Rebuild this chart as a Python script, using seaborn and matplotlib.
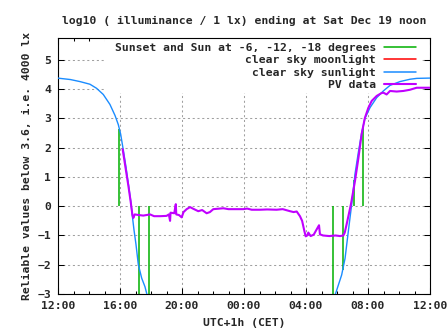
import numpy as np
import pandas as pd
import matplotlib
matplotlib.use("Agg")
import matplotlib.pyplot as plt
from matplotlib.lines import Line2D
from matplotlib.patches import Rectangle
from matplotlib.ticker import MultipleLocator, FixedLocator
import seaborn as sns

# Hours since Friday 12:00 (CET); 24 = Saturday noon
sun_eve_h = [0, 0.13, 0.8, 1.42, 2.06, 2.49, 2.92, 3.35, 3.68, 3.89, 4.04, 4.22,
             4.39, 4.54, 4.69, 4.80, 4.90, 5.03, 5.18, 5.40, 5.61, 5.78]
sun_eve_v = [4.38, 4.37, 4.33, 4.26, 4.17, 4.03, 3.82, 3.48, 3.10, 2.79, 2.47, 1.90,
             1.33, 0.76, 0.19, -0.35, -0.80, -1.30, -1.99, -2.46, -2.75, -3.10]
sun_morn_h = [17.87, 18.09, 18.30, 18.52, 18.73, 18.95, 19.16, 19.38, 19.59, 19.80,
              20.13, 20.56, 20.99, 21.42, 22.06, 22.71, 23.14, 24.0]
sun_morn_v = [-3.05, -2.69, -2.35, -1.78, -0.86, 0.07, 1.10, 1.85, 2.50, 3.00,
              3.37, 3.71, 3.94, 4.13, 4.26, 4.34, 4.37, 4.38]

pv_h = [4.17, 4.39, 4.54, 4.69, 4.80, 4.86, 4.95, 5.2, 5.5, 5.94, 6.2, 6.6, 7.0,
        7.15, 7.23, 7.26, 7.5, 7.6, 7.63, 7.8, 7.98, 8.1, 8.3, 8.52, 8.7, 9.05,
        9.3, 9.59, 9.8, 10.02, 10.67, 11.0, 11.96, 12.2, 12.5, 13.03, 13.5, 14.1,
        14.5, 14.97, 15.2, 15.4, 15.61, 15.75, 15.9, 15.98, 16.08, 16.15, 16.3,
        16.5, 16.69, 16.84, 16.9, 17.1, 17.5, 17.9, 18.2, 18.41, 18.5, 18.62,
        18.75, 18.9, 19.16, 19.38, 19.59, 19.8, 20.02, 20.24, 20.56, 20.88, 21.0,
        21.2, 21.42, 21.85, 22.28, 22.7, 23.14, 24.0]
pv_v = [1.95, 1.2, 0.7, 0.15, -0.3, -0.4, -0.28, -0.3, -0.32, -0.28, -0.34, -0.34,
        -0.33, -0.28, -0.5, -0.22, -0.24, 0.07, -0.28, -0.3, -0.38, -0.2, -0.1,
        -0.03, -0.08, -0.17, -0.13, -0.24, -0.2, -0.1, -0.07, -0.1, -0.1, -0.08,
        -0.12, -0.12, -0.11, -0.12, -0.1, -0.17, -0.2, -0.18, -0.34, -0.5, -0.86,
        -1.03, -1.0, -0.9, -1.02, -0.97, -0.79, -0.65, -0.96, -1.0, -1.02, -1.0,
        -1.02, -1.0, -0.9, -0.62, -0.3, 0.07, 0.86, 1.64, 2.47, 3.02, 3.36, 3.6,
        3.77, 3.87, 3.88, 3.82, 3.94, 3.92, 3.94, 3.98, 4.05, 4.05]

# Sunset / sunrise and sun at -6, -12, -18 degrees
event_h = [3.95, 5.25, 5.89, 17.74, 18.41, 19.12, 19.70]
event_v = [2.64, -3.5, -3.5, -3.5, -2.17, 0.90, 2.70]

x_tick_labels = ["12:00", "16:00", "20:00", "00:00", "04:00", "08:00", "12:00"]

GREEN = "#00b000"
RED = "#ff0000"
BLUE = "#1a8cff"
PURPLE = "#c000ff"

sns.set_style("ticks")
plt.rcParams["font.family"] = ["DejaVu Sans Mono"]
plt.rcParams["font.weight"] = "bold"
FS = 8.2

fig = plt.figure(figsize=(4.47, 3.35), dpi=100)
ax = fig.add_axes([58 / 447, 1 - 294 / 335, 372 / 447, 256 / 335])

sun = pd.concat([
    pd.DataFrame({"h": sun_eve_h, "v": sun_eve_v, "seg": "eve"}),
    pd.DataFrame({"h": sun_morn_h, "v": sun_morn_v, "seg": "morn"}),
])
pv = pd.DataFrame({"h": pv_h, "v": pv_v})

ax.set_axisbelow(True)
ax.grid(True, which="major", color="#a0a0a0", linestyle=(0, (2, 2.6)), linewidth=0.75)

# opaque key area (hides grid, data drawn over it)
ax.add_patch(Rectangle((0.126, 0.785), 0.85, 0.215, transform=ax.transAxes,
                       facecolor="white", edgecolor="none", zorder=1))

ax.vlines(event_h, 0, event_v, colors=GREEN, linewidth=1.1, zorder=2)
sns.lineplot(data=sun, x="h", y="v", units="seg", estimator=None, color=BLUE,
             linewidth=1.0, ax=ax, zorder=3, sort=False)
sns.lineplot(data=pv, x="h", y="v", estimator=None, color=PURPLE,
             linewidth=1.5, ax=ax, zorder=4, sort=False)

ax.set_xlim(0, 24)
ax.set_ylim(-3, 5.75)
ax.xaxis.set_major_locator(FixedLocator([0, 4, 8, 12, 16, 20, 24]))
ax.xaxis.set_minor_locator(MultipleLocator(1))
ax.set_xticklabels(x_tick_labels)
ax.yaxis.set_major_locator(MultipleLocator(1))
ax.tick_params(which="both", direction="in", top=True, right=True,
               width=0.75, color="black", labelsize=FS)
ax.tick_params(which="major", length=4)
ax.tick_params(which="minor", length=2.2)
ax.tick_params(axis="x", pad=5)
ax.tick_params(axis="y", pad=5)
for s in ax.spines.values():
    s.set_color("black")
    s.set_linewidth(0.8)

ax.set_xlabel("UTC+1h (CET)", fontsize=FS, fontweight="bold", labelpad=5)
ax.set_ylabel("Reliable values below 3.6, i.e. 4000 lx", fontsize=FS,
              fontweight="bold", labelpad=4)
ax.set_title("log10 ( illuminance / 1 lx) ending at Sat Dec 19 noon",
             fontsize=FS, fontweight="bold", pad=10)

handles = [Line2D([], [], color=GREEN, linewidth=1.1),
           Line2D([], [], color=RED, linewidth=1.1),
           Line2D([], [], color=BLUE, linewidth=1.1),
           Line2D([], [], color=PURPLE, linewidth=1.5)]
labels = ["Sunset and Sun at -6, -12, -18 degrees", "clear sky moonlight",
          "clear sky sunlight", "PV data"]
leg = ax.legend(handles, labels, loc="upper right", bbox_to_anchor=(0.962, 0.982),
                markerfirst=False, frameon=False, borderpad=0, borderaxespad=0,
                handlelength=2.8, handletextpad=0.7, labelspacing=0.22,
                prop={"family": "DejaVu Sans Mono", "weight": "bold", "size": FS})

fig.savefig("out.png", dpi=100)
